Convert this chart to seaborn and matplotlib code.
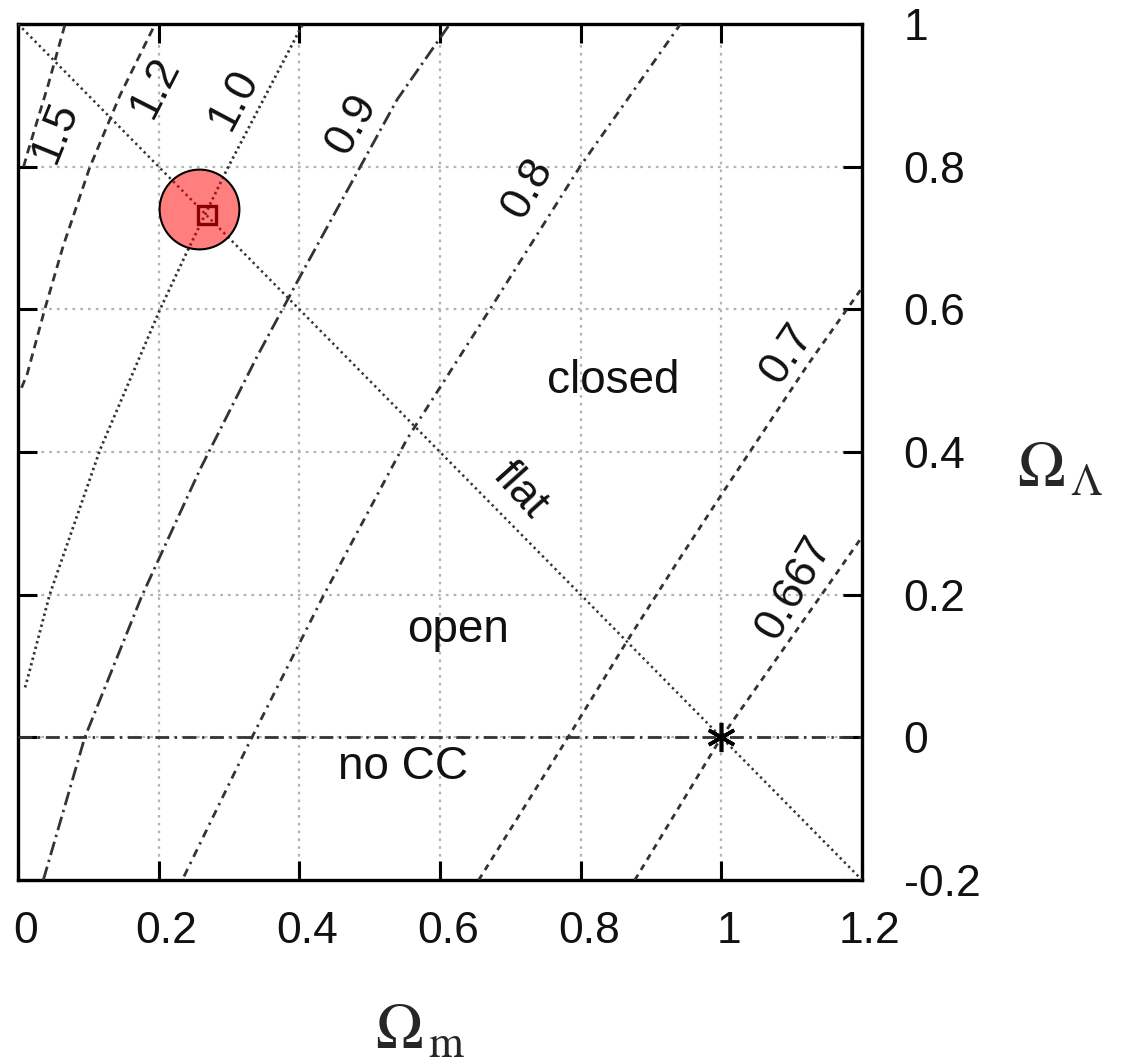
import matplotlib
matplotlib.use("Agg")
import matplotlib.pyplot as plt
import matplotlib.transforms as mtransforms
import numpy as np
import pandas as pd
import seaborn as sns

# ---------------- data ----------------
omega_m_ticks = [0.0, 0.2, 0.4, 0.6, 0.8, 1.0, 1.2]
omega_m_tick_labels = ["0", "0.2", "0.4", "0.6", "0.8", "1", "1.2"]
omega_l_ticks = [-0.2, 0.0, 0.2, 0.4, 0.6, 0.8, 1.0]
omega_l_tick_labels = ["-0.2", "0", "0.2", "0.4", "0.6", "0.8", "1"]

# iso-age contours H0*t0 (Omega_m, Omega_Lambda)
age_15_m = [0.008, 0.014, 0.043, 0.067]
age_15_l = [0.800, 0.821, 0.915, 1.000]
age_12_m = [0.005, 0.013, 0.038, 0.064, 0.102, 0.145, 0.195]
age_12_l = [0.490, 0.509, 0.600, 0.688, 0.799, 0.900, 1.000]
age_10_m = [0.010, 0.014, 0.045, 0.117, 0.202, 0.240, 0.297, 0.405]
age_10_l = [0.070, 0.084, 0.200, 0.404, 0.600, 0.680, 0.796, 1.000]
age_09_m = [0.036, 0.095, 0.176, 0.259, 0.340, 0.401, 0.539, 0.614]
age_09_l = [-0.200, 0.000, 0.198, 0.376, 0.534, 0.646, 0.894, 1.000]
age_08_m = [0.236, 0.326, 0.434, 0.553, 0.671, 0.799, 0.942]
age_08_l = [-0.195, -0.013, 0.198, 0.418, 0.600, 0.800, 1.000]
age_07_m = [0.655, 0.782, 0.866, 0.937, 1.002, 1.122, 1.200]
age_07_l = [-0.200, 0.000, 0.135, 0.245, 0.343, 0.521, 0.630]
age_0667_m = [0.877, 1.000, 1.144, 1.200]
age_0667_l = [-0.200, 0.000, 0.202, 0.281]

flat_m = [0.0, 1.2]
flat_l = [1.0, -0.2]
nocc_m = [0.0, 1.2]
nocc_l = [0.0, 0.0]

best_fit_m = [0.257]
best_fit_l = [0.740]
square_m = [0.269]
square_l = [0.732]
eds_m = [1.0]
eds_l = [0.0]

curve_names = ["1.5", "1.2", "1.0", "0.9", "0.8", "0.7", "0.667"]
curve_m = [age_15_m, age_12_m, age_10_m, age_09_m, age_08_m, age_07_m, age_0667_m]
curve_l = [age_15_l, age_12_l, age_10_l, age_09_l, age_08_l, age_07_l, age_0667_l]

# label positions / rotations for contour labels
label_m = [0.053, 0.196, 0.307, 0.475, 0.725, 1.093, 1.104]
label_l = [0.848, 0.911, 0.894, 0.859, 0.769, 0.537, 0.210]
label_rot = [68, 63, 62, 60, 60, 56, 60]

# ---------------- style ----------------
sns.set_style("white")
plt.rcParams["font.family"] = ["Liberation Sans", "DejaVu Sans"]
plt.rcParams["mathtext.fontset"] = "stix"
plt.rcParams["lines.scale_dashes"] = False

line_color = "#333333"
dash_styles = {
    "1.5": (0, (6, 4)),
    "1.2": (0, (6, 4)),
    "1.0": (0, (1.7, 2.4)),
    "0.9": (0, (10, 3.5, 1.7, 3.5)),
    "0.8": (0, (6, 4, 1.7, 4)),
    "0.7": (0, (4.5, 4)),
    "0.667": (0, (4.5, 4)),
}

frames = []
for name, m, l in zip(curve_names, curve_m, curve_l):
    frames.append(pd.DataFrame({"omega_m": m, "omega_l": l, "curve": name}))
df = pd.concat(frames, ignore_index=True)

fig = plt.figure(figsize=(11.28, 10.64), dpi=100)
ax = fig.add_axes([18 / 1128, 1 - 880 / 1064, 844 / 1128, 856 / 1064])

for name in curve_names:
    sub = df[df["curve"] == name]
    sns.lineplot(data=sub, x="omega_m", y="omega_l", sort=False, estimator=None,
                 color=line_color, linewidth=2.0, linestyle=dash_styles[name],
                 ax=ax, zorder=3)

sns.lineplot(x=flat_m, y=flat_l, sort=False, estimator=None, color=line_color,
             linewidth=1.8, linestyle=(0, (1.7, 2.6)), ax=ax, zorder=3)
sns.lineplot(x=nocc_m, y=nocc_l, sort=False, estimator=None, color=line_color,
             linewidth=2.0, linestyle=(0, (10, 4, 1.7, 4)), ax=ax, zorder=3)

# best fit marker
ax.scatter(best_fit_m, best_fit_l, s=3300, facecolor=(1, 0, 0, 0.5),
           edgecolor="black", linewidth=1.5, zorder=5)
ax.plot(square_m, square_l, marker="s", ms=13, mfc="none", mec="#8b0000",
        mew=2.4, ls="none", zorder=6)
ax.plot(eds_m, eds_l, marker=(6, 2, 0), ms=21, mec="black", mew=2.6,
        ls="none", zorder=6)

# contour labels
for txt, m, l, r in zip(curve_names, label_m, label_l, label_rot):
    ax.text(m, l, txt, rotation=r, rotation_mode="anchor", ha="center",
            va="center", fontsize=32, color="#111111", zorder=7)

ax.text(0.714, 0.346, "flat", rotation=-48, rotation_mode="anchor",
        ha="center", va="center", fontsize=32, color="#111111", zorder=7)
ax.text(0.846, 0.499, "closed", ha="center", va="center", fontsize=33,
        color="#111111", zorder=7)
ax.text(0.625, 0.150, "open", ha="center", va="center", fontsize=33,
        color="#111111", zorder=7)
ax.text(0.547, -0.042, "no CC", ha="center", va="center", fontsize=33,
        color="#111111", zorder=7)

# axes
ax.set_xlim(0, 1.2)
ax.set_ylim(-0.2, 1.0)
ax.set_xlabel("")
ax.set_ylabel("")
ax.set_xticks(omega_m_ticks)
ax.set_xticklabels(omega_m_tick_labels)
ax.set_yticks(omega_l_ticks)
ax.set_yticklabels(omega_l_tick_labels)
ax.tick_params(axis="both", which="major", direction="in", length=14, width=2.2,
               top=True, right=True, left=True, bottom=True, labelsize=32,
               color="black", labelcolor="#111111")
ax.tick_params(axis="y", labelleft=False, labelright=True, pad=30)
ax.tick_params(axis="x", pad=22)
shift = mtransforms.ScaledTranslation(8 / 100, 0, fig.dpi_scale_trans)
for lab in ax.get_xticklabels():
    lab.set_transform(lab.get_transform() + shift)

ax.grid(True, color="#b4b4b4", linestyle=(0, (2, 3.6)), linewidth=1.6)
ax.set_axisbelow(True)
for sp in ax.spines.values():
    sp.set_linewidth(2.4)
    sp.set_color("black")
    sp.set_visible(True)

fig.text(420 / 1128, 1 - 1033 / 1064, r"$\Omega_{\,\mathrm{m}}$", fontsize=46,
         ha="center", va="center")
fig.text(1060 / 1128, 1 - 470 / 1064, r"$\Omega_{\,\Lambda}$", fontsize=46,
         ha="center", va="center")

fig.savefig("out.png", dpi=100, facecolor="white")
